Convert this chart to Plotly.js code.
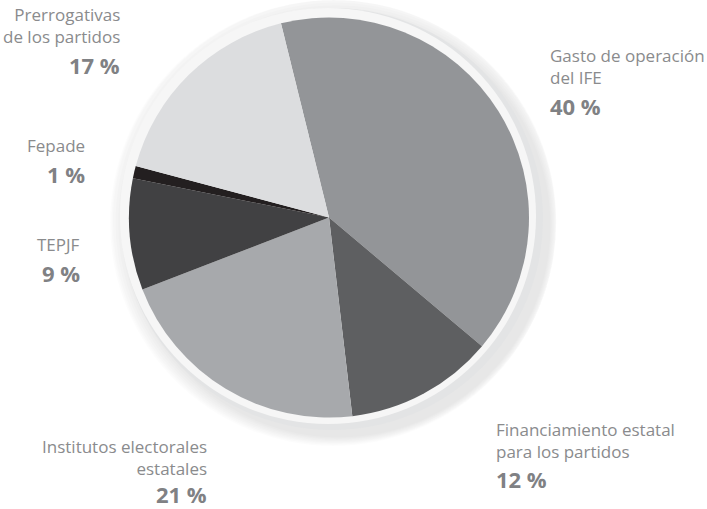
<!DOCTYPE html>
<html>
<head>
<meta charset="utf-8">
<script src="https://cdn.plot.ly/plotly-3.0.1.min.js"></script>
<style>html,body{margin:0;padding:0;background:#fff;}#chart{width:707px;height:509px;}</style>
</head>
<body>
<div id="chart"></div>
<script>
// Data
var categories = ["Gasto de operación<br>del IFE", "Financiamiento estatal<br>para los partidos", "Institutos electorales<br>estatales", "TEPJF", "Fepade", "Prerrogativas<br>de los partidos"];
var values = [40, 12, 21, 9, 1, 17];
var percentLabels = ["40 %", "12 %", "21 %", "9 %", "1 %", "17 %"];
var sliceColors = ["#939598", "#5e5f61", "#a7a9ac", "#414143", "#231f20", "#dcdddf"];

var W = 707, H = 509;
function dom(cx, cy, r) {
  return {x: [(cx - r) / W, (cx + r) / W], y: [1 - (cy + r) / H, 1 - (cy - r) / H]};
}
function disc(cx, cy, r, color) {
  return {type: 'pie', values: [1], labels: [' '], marker: {colors: [color], line: {width: 0}},
    textinfo: 'none', hoverinfo: 'skip', showlegend: false, sort: false, domain: dom(cx, cy, r)};
}

var traces = [];
// soft shadow layers
for (var k = 0; k < 8; k++) {
  traces.push(disc(333 + k * 0.8, 220 + k * 0.8, 226 - k * 2, 'rgba(0,0,0,0.011)'));
}
traces.push(disc(332, 219, 211, '#e3e4e5'));
traces.push(disc(328, 216, 208, '#f6f6f6'));
traces.push({
  type: 'pie',
  values: values,
  labels: categories,
  marker: {colors: sliceColors, line: {width: 0}},
  sort: false,
  direction: 'clockwise',
  rotation: -13.9,
  textinfo: 'none',
  hoverinfo: 'label+percent',
  showlegend: false,
  domain: dom(329, 217.5, 200)
});

var nameFont = {family: 'Open Sans, sans-serif', size: 17, color: '#8a8b8d'};
var pctFont = {family: 'Open Sans, sans-serif', size: 22, color: '#808184', weight: 'bold'};

// label anchor positions (paper px): [x, yNameTop, yPctTop, xanchor]
var labelPos = [
  [549, 43, 90, 'left'],
  [495, 417, 463, 'left'],
  [208, 434, 478, 'right'],
  [81, 232, 257, 'right'],
  [86, 133, 158, 'right'],
  [121, 2, 49, 'right']
];
var annotations = [];
for (var i = 0; i < categories.length; i++) {
  var p = labelPos[i];
  annotations.push({xref: 'paper', yref: 'paper', x: p[0] / W, y: 1 - p[1] / H, xanchor: p[3], yanchor: 'top',
    align: p[3], text: categories[i], showarrow: false, font: nameFont, borderpad: 0});
  annotations.push({xref: 'paper', yref: 'paper', x: p[0] / W, y: 1 - p[2] / H, xanchor: p[3], yanchor: 'top',
    align: p[3], text: percentLabels[i], showarrow: false, font: pctFont, borderpad: 0});
}

var layout = {
  width: W, height: H,
  margin: {l: 0, r: 0, t: 0, b: 0},
  paper_bgcolor: '#ffffff',
  showlegend: false,
  annotations: annotations
};
Plotly.newPlot('chart', traces, layout, {displayModeBar: false, staticPlot: true});
</script>
</body>
</html>
